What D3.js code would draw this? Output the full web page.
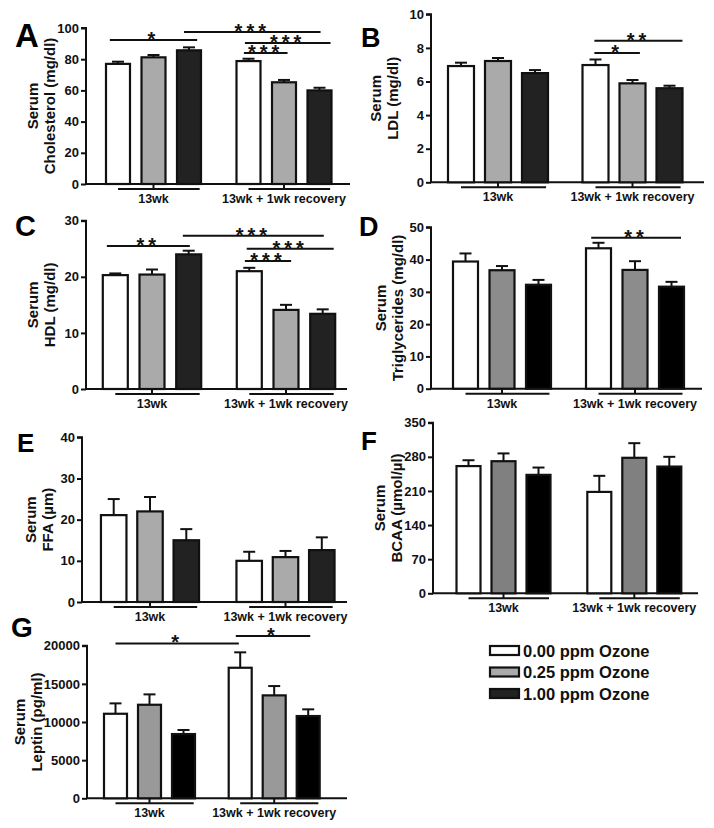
<!DOCTYPE html>
<html>
<head>
<meta charset="utf-8">
<script src="https://cdn.jsdelivr.net/npm/d3@7"></script>
<style>
  html, body { margin: 0; padding: 0; background: #fff; }
  svg { display: block; font-family: "Liberation Sans", Arial, sans-serif; font-weight: bold; }
</style>
</head>
<body>
<svg id="chart" width="714" height="828"></svg>
<script>
// ---------- data ----------
const groups = ["13wk", "13wk + 1wk recovery"];
const doses = ["0.00 ppm Ozone", "0.25 ppm Ozone", "1.00 ppm Ozone"];

const cholMean = [77.0, 81.2, 85.7, 78.8, 65.2, 60.0];
const cholErr  = [1.4, 1.5, 1.9, 1.5, 1.5, 1.7];
const cholTicks = [0, 20, 40, 60, 80, 100];
const cholSig = [[-0.23, 2.23, 92.3, "*"], [1.86, 5.03, 97.4, "***"], [2.9, 5.31, 90.4, "***"], [2.87, 4.1, 84.0, "***"]];

const ldlMean = [6.92, 7.22, 6.50, 6.98, 5.89, 5.60];
const ldlErr  = [0.20, 0.18, 0.18, 0.33, 0.20, 0.15];
const ldlTicks = [0, 2, 4, 6, 8, 10];
const ldlSig = [[2.97, 5.35, 8.43, "**"], [2.97, 4.2, 7.7, "*"]];

const hdlMean = [20.3, 20.4, 24.0, 21.0, 14.1, 13.4];
const hdlErr  = [0.3, 0.9, 0.65, 0.6, 0.9, 0.8];
const hdlTicks = [0, 10, 20, 30];
const hdlSig = [[-0.23, 2.03, 25.5, "**"], [1.84, 5.03, 27.3, "***"], [2.93, 5.3, 25.0, "***"], [2.88, 4.14, 22.8, "***"]];

const trigMean = [39.4, 36.7, 32.2, 43.5, 36.8, 31.6];
const trigErr  = [2.5, 1.3, 1.5, 1.7, 2.7, 1.5];
const trigTicks = [0, 10, 20, 30, 40, 50];
const trigSig = [[2.8, 5.26, 46.8, "**"]];

const ffaMean = [21.1, 22.0, 15.0, 10.0, 10.9, 12.6];
const ffaErr  = [3.9, 3.5, 2.7, 2.2, 1.5, 3.1];
const ffaTicks = [0, 10, 20, 30, 40];
const ffaSig = [];

const bcaaMean = [261, 271, 243, 208, 278, 260];
const bcaaErr  = [12, 16, 15, 33, 30, 20];
const bcaaTicks = [0, 70, 140, 210, 280, 350];
const bcaaSig = [];

const leptinMean = [11080, 12260, 8420, 17110, 13490, 10780];
const leptinErr  = [1360, 1360, 530, 2020, 1220, 880];
const leptinTicks = [0, 5000, 10000, 15000, 20000];
const leptinSig = [[0, 2.96, 20300, "*"], [2.87, 5.06, 21260, "*"]];

const titles = [
  ["Serum", "Cholesterol (mg/dl)"], ["Serum", "LDL (mg/dl)"], ["Serum", "HDL (mg/dl)"],
  ["Serum", "Triglycerides (mg/dl)"], ["Serum", "FFA (\u00b5m)"], ["Serum", "BCAA (\u00b5mol/\u00b5l)"],
  ["Serum", "Leptin (pg/ml)"]
];
const letters = ["A", "B", "C", "D", "E", "F", "G"];

// ---------- styling / layout ----------
const fillsLight = ["#ffffff", "#aaaaaa", "#222222"];
const fillsDark  = ["#ffffff", "#8c8c8c", "#000000"];
const fillsF     = ["#ffffff", "#808080", "#000000"];
const fillsG     = ["#ffffff", "#999999", "#000000"];

const panels = [
  { mean: cholMean, err: cholErr, ticks: cholTicks, sig: cholSig, fills: fillsLight,
    ax: 86, right: 350, y0: 184, yTop: 28, g: [153.5, 284], step: 35.5, bw: 24, tOff: 36, L: [15, 47, 33] },
  { mean: ldlMean, err: ldlErr, ticks: ldlTicks, sig: ldlSig, fills: fillsLight,
    ax: 431, right: 704, y0: 182.3, yTop: 14.3, g: [498, 632.5], step: 37, bw: 26, tOff: 38, L: [361, 47, 27] },
  { mean: hdlMean, err: hdlErr, ticks: hdlTicks, sig: hdlSig, fills: fillsLight,
    ax: 86, right: 347, y0: 389, yTop: 220.7, g: [152, 286], step: 36.7, bw: 25, tOff: 36, L: [15, 236, 29] },
  { mean: trigMean, err: trigErr, ticks: trigTicks, sig: trigSig, fills: fillsDark,
    ax: 431, right: 702, y0: 388.7, yTop: 227.3, g: [502, 635], step: 36.5, bw: 25, tOff: 33, L: [359, 236, 27] },
  { mean: ffaMean, err: ffaErr, ticks: ffaTicks, sig: ffaSig, fills: fillsLight,
    ax: 82, right: 347, y0: 602, yTop: 437.3, g: [150, 285.5], step: 36.3, bw: 25.5, tOff: 34, L: [17, 452, 26] },
  { mean: bcaaMean, err: bcaaErr, ticks: bcaaTicks, sig: bcaaSig, fills: fillsF,
    ax: 433, right: 698, y0: 593.3, yTop: 422.7, g: [503.5, 634.3], step: 35, bw: 24, tOff: 36, L: [361, 450, 26] },
  { mean: leptinMean, err: leptinErr, ticks: leptinTicks, sig: leptinSig, fills: fillsG,
    ax: 87, right: 347, y0: 798.3, yTop: 645.7, g: [149.5, 274.2], step: 34, bw: 23, tOff: 50, L: [11, 637, 28] }
];

const svg = d3.select("#chart");

panels.forEach((p, pi) => {
  const gEl = svg.append("g");
  const y = d3.scaleLinear().domain([0, d3.max(p.ticks)]).range([p.y0, p.yTop]);
  const gx = d3.scalePoint().domain(groups).range(p.g);
  const dx = d3.scalePoint().domain(doses).range([-p.step, p.step]);
  const barX = i => gx(groups[Math.floor(i / 3)]) + dx(doses[i % 3]);
  const posX = pos => {
    const gi = pos < 2.5 ? 0 : 1;
    return gx(groups[gi]) + (pos - 3 * gi - 1) * p.step;
  };

  // y axis
  const yAxis = d3.axisLeft(y).tickValues(p.ticks).tickSize(5).tickPadding(2).tickFormat(d3.format("d"));
  const ya = gEl.append("g").attr("transform", `translate(${p.ax},0)`).call(yAxis);
  ya.select(".domain").attr("stroke", "#111").attr("stroke-width", 2).attr("d", `M-5,${p.yTop}H0V${p.y0}`);
  ya.selectAll(".tick line").attr("stroke", "#111").attr("stroke-width", 2);
  ya.selectAll(".tick text").attr("fill", "#111").attr("font-size", 13).attr("font-weight", "bold")
    .attr("font-family", "Liberation Sans, Arial, sans-serif");

  // x axis baseline
  gEl.append("line").attr("x1", p.ax - 1).attr("x2", p.right).attr("y1", p.y0).attr("y2", p.y0)
    .attr("stroke", "#111").attr("stroke-width", 2);

  // bars
  const idx = d3.range(6);
  gEl.selectAll("rect.bar").data(idx).join("rect")
    .attr("x", i => barX(i) - p.bw / 2)
    .attr("y", i => y(p.mean[i]))
    .attr("width", p.bw)
    .attr("height", i => p.y0 - y(p.mean[i]))
    .attr("fill", i => p.fills[i % 3])
    .attr("stroke", "#111").attr("stroke-width", 2.2);

  // error bars (upper)
  const eb = gEl.selectAll("g.eb").data(idx).join("g");
  eb.append("line").attr("x1", i => barX(i)).attr("x2", i => barX(i))
    .attr("y1", i => y(p.mean[i])).attr("y2", i => y(p.mean[i] + p.err[i]))
    .attr("stroke", "#111").attr("stroke-width", 2);
  eb.append("line").attr("x1", i => barX(i) - 6).attr("x2", i => barX(i) + 6)
    .attr("y1", i => y(p.mean[i] + p.err[i])).attr("y2", i => y(p.mean[i] + p.err[i]))
    .attr("stroke", "#111").attr("stroke-width", 2);

  // group underlines + labels
  groups.forEach(gName => {
    const cx = gx(gName);
    const uy = p.y0 + 5;
    gEl.append("line").attr("x1", cx - 1.0 * p.step).attr("x2", cx + 1.3 * p.step)
      .attr("y1", uy).attr("y2", uy).attr("stroke", "#111").attr("stroke-width", 2);
    gEl.append("line").attr("x1", cx).attr("x2", cx).attr("y1", p.y0).attr("y2", uy)
      .attr("stroke", "#111").attr("stroke-width", 2);
    gEl.append("text").attr("x", cx).attr("y", p.y0 + 19).attr("text-anchor", "middle")
      .attr("font-size", 12.5).attr("fill", "#111").text(gName);
  });

  // significance lines
  p.sig.forEach(s => {
    const x1 = posX(s[0]), x2 = posX(s[1]), yy = y(s[2]);
    gEl.append("line").attr("x1", x1).attr("x2", x2).attr("y1", yy).attr("y2", yy)
      .attr("stroke", "#111").attr("stroke-width", 2);
    gEl.append("text").attr("x", (x1 + x2) / 2).attr("y", yy + 6).attr("text-anchor", "middle")
      .attr("font-size", 20).attr("letter-spacing", 4).attr("fill", "#111").text(s[3]);
  });

  // y title
  const midY = (p.y0 + p.yTop) / 2;
  const t = titles[pi];
  gEl.append("text").attr("transform", `translate(${p.ax - p.tOff - 17},${midY}) rotate(-90)`)
    .attr("text-anchor", "middle").attr("dy", "0.35em").attr("font-size", 15).attr("fill", "#111").text(t[0]);
  gEl.append("text").attr("transform", `translate(${p.ax - p.tOff},${midY}) rotate(-90)`)
    .attr("text-anchor", "middle").attr("dy", "0.35em").attr("font-size", 15).attr("fill", "#111").text(t[1]);

  // panel letter
  gEl.append("text").attr("x", p.L[0]).attr("y", p.L[1]).attr("font-size", p.L[2])
    .attr("fill", "#000").text(letters[pi]);
});

// legend
const leg = svg.append("g").attr("transform", "translate(489,645)");
doses.forEach((d, i) => {
  leg.append("rect").attr("x", 1).attr("y", i * 21.5 + 1).attr("width", 29).attr("height", 9)
    .attr("fill", fillsLight[i]).attr("stroke", "#111").attr("stroke-width", 2.2);
  leg.append("text").attr("x", 34).attr("y", i * 21.5 + 11.5).attr("font-size", 16.5).attr("fill", "#111").text(d);
});
</script>
</body>
</html>
